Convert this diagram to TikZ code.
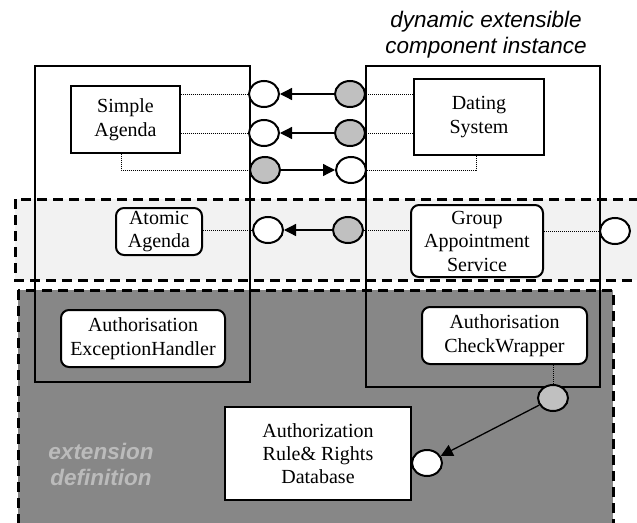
\documentclass[tikz,border=0pt]{standalone}
\usepackage{fontspec}
\setmainfont{Liberation Serif}
\newfontfamily\labelsans{Liberation Sans}
\usetikzlibrary{shapes.geometric,arrows.meta}

\definecolor{bandlight}{HTML}{F2F2F2}
\definecolor{banddark}{HTML}{878787}
\definecolor{portgray}{HTML}{C0C0C0}
\definecolor{exttext}{HTML}{BBBBBB}

\begin{document}
\begin{tikzpicture}[x=1pt,y=-1pt,
  container/.style={draw,line width=2pt},
  region/.style={draw,line width=3pt,dash pattern=on 10pt off 6pt},
  plainbox/.style={draw,line width=1.4pt,fill=white,align=center,inner sep=0pt,
    font=\fontsize{20}{24}\selectfont},
  roundbox/.style={plainbox,line width=2pt,rounded corners=8pt,
    font=\fontsize{20}{23.5}\selectfont},
  port/.style={draw,ellipse,line width=2pt,minimum width=30pt,minimum height=26pt,inner sep=0pt},
  reqport/.style={port,fill=white},
  provport/.style={port,fill=portgray},
  binding/.style={line width=1.3pt,-{Triangle[length=12pt,width=12pt]}},
  link/.style={line width=0.9pt,dash pattern=on 1pt off 1pt},
]
\useasboundingbox (0,0) rectangle (637,522);
\clip (0,0) rectangle (637,522);

% extension regions
\draw[region,fill=bandlight] (15,199) rectangle (670,280);
\draw[region,fill=banddark] (18,290) rectangle (613,560);

% component instances
\draw[container] (35,66) rectangle (250,382);
\draw[container] (366,66) rectangle (600,387);

% title and region label
\node[font=\labelsans\itshape\fontsize{22.5}{26}\selectfont,align=center] (title) at (486,34.5)
  {dynamic extensible\\component instance};
\node[font=\labelsans\bfseries\itshape\fontsize{22.5}{26}\selectfont,align=center,text=exttext]
  (extlabel) at (101,464) {extension\\definition};

% inner components
\node[plainbox,minimum width=109pt,minimum height=67pt] (sa) at (125.5,119.5) {Simple\\Agenda};
\node[plainbox,minimum width=130pt,minimum height=76pt] (ds) at (479,117) {Dating\\System};
\node[roundbox,minimum width=86pt,minimum height=47pt] (aa) at (159,231.5) {Atomic\\Agenda};
\node[roundbox,minimum width=132pt,minimum height=72pt] (gas) at (477,241) {Group\\Appointment\\Service};
\node[roundbox,minimum width=164pt,minimum height=57pt] (aeh) at (143,338.5) {Authorisation\\ExceptionHandler};
\node[roundbox,minimum width=165pt,minimum height=57pt] (acw) at (504.5,335.5) {Authorisation\\CheckWrapper};
\node[plainbox,line width=2pt,minimum width=186pt,minimum height=93pt,font=\fontsize{20}{23}\selectfont]
  (db) at (318,453.5) {Authorization\\Rule\& Rights\\Database};

% ports
\node[reqport]  (wl1) at (264,94) {};
\node[provport] (gr1) at (350,94) {};
\node[reqport]  (wl2) at (264,133) {};
\node[provport] (gr2) at (350,133) {};
\node[provport] (gl3) at (265,170) {};
\node[reqport]  (wr3) at (351,170) {};
\node[reqport]  (wl4) at (268,230) {};
\node[provport] (gr4) at (348,230) {};
\node[reqport]  (wr5) at (615,231) {};
\node[provport] (gr6) at (553,398) {};
\node[reqport]  (wd)  at (427,463) {};

% bindings
\draw[binding] (gr1) -- (wl1);
\draw[binding] (gr2) -- (wl2);
\draw[binding] (gl3) -- (wr3);
\draw[binding] (gr4) -- (wl4);
\draw[binding] (gr6) -- (wd);

% port delegation links
\draw[link] (sa.east |- wl1) -- (wl1.west);
\draw[link] (sa.east |- wl2) -- (wl2.west);
\draw[link] ([xshift=-4.5pt]sa.south) |- (gl3.west);
\draw[link] (gr1.east) -- (ds.west |- gr1);
\draw[link] (gr2.east) -- (ds.west |- gr2);
\draw[link] ([xshift=-3pt]ds.south) |- (wr3.east);
\draw[link] (aa.east |- wl4) -- (wl4.west);
\draw[link] (gr4.east) -- (gas.west |- gr4);
\draw[link] (gas.east |- wr5) -- (wr5.west);
\draw[link] (acw.south -| gr6) -- (gr6.north);
\end{tikzpicture}
\end{document}
